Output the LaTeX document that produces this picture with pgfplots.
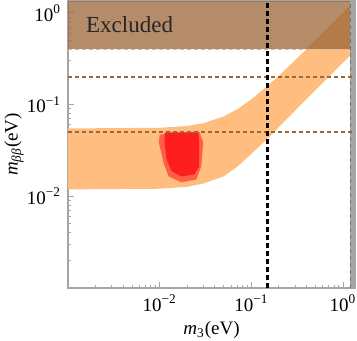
\documentclass[border=0pt]{standalone}
\usepackage{fontspec}
\setmainfont{Liberation Serif}
\usepackage{pgfplots}
\pgfplotsset{compat=1.18}
\definecolor{bandorange}{RGB}{255,190,128}
\definecolor{exclbrown}{RGB}{155,101,55}
\definecolor{dashbrown}{RGB}{150,105,55}
\definecolor{blobred}{RGB}{255,30,30}
\definecolor{blobedge}{RGB}{255,95,70}
\definecolor{framegray}{RGB}{165,165,165}

\begin{document}
\begin{tikzpicture}
\useasboundingbox (-34pt,-26.5pt) rectangle (144.5pt,144pt);
\begin{axis}[
  xmode=log, ymode=log,
  scale only axis, width=143.5pt, height=143.5pt,
  xmin=1e-3, xmax=1.35, ymin=1e-3, ymax=1.35,
  xtick={0.01,0.1,1}, ytick={0.01,0.1,1},
  xticklabels={10\textsuperscript{−2},10\textsuperscript{−1},10\textsuperscript{0}},
  yticklabels={10\textsuperscript{−2},10\textsuperscript{−1},10\textsuperscript{0}},
  minor xtick={0.002,0.003,0.004,0.005,0.006,0.007,0.008,0.009,
               0.02,0.03,0.04,0.05,0.06,0.07,0.08,0.09,
               0.2,0.3,0.4,0.5,0.6,0.7,0.8,0.9},
  minor ytick={0.002,0.003,0.004,0.005,0.006,0.007,0.008,0.009,
               0.02,0.03,0.04,0.05,0.06,0.07,0.08,0.09,
               0.2,0.3,0.4,0.5,0.6,0.7,0.8,0.9},
  tick align=inside, tick pos=left,
  major tick length=3pt, minor tick length=1.7pt,
  tick style={framegray, line width=0.5pt},
  axis line style={framegray, line width=0.6pt},
  tick label style={font=\fontsize{9.5}{11}\selectfont},
  xlabel={\textit{m}\textsubscript{3}(eV)},
  ylabel={\textit{m}\textsubscript{\textit{ββ}}(eV)},
  label style={font=\fontsize{9.5}{11}\selectfont},
  xlabel style={at={(axis description cs:0.5,-0.146)}, anchor=center},
  ylabel style={at={(axis description cs:-0.188,0.5)}, anchor=center},
]
% allowed band (upper edge left to right, lower edge back)
\addplot[fill=bandorange, draw=none] coordinates {
  (0.001,0.055) (0.01,0.0559) (0.02,0.0585) (0.03,0.0627) (0.05,0.0743)
  (0.07,0.089) (0.1,0.114) (0.15,0.16) (0.2,0.207) (0.3,0.305)
  (0.5,0.503) (0.8,0.802) (1.35,1.351)
  (1.35,0.39) (0.8,0.23) (0.5,0.144) (0.3,0.086) (0.2,0.057)
  (0.15,0.0425) (0.1,0.029) (0.07,0.021) (0.05,0.0165) (0.03,0.0138)
  (0.02,0.0127) (0.01,0.0121) (0.001,0.0119)
} -- cycle;
% red scatter region
\addplot[fill=blobedge, draw=none] coordinates {
  (0.0100,0.0472) (0.0270,0.0509) (0.0299,0.0386) (0.0284,0.0212)
  (0.0251,0.0153) (0.0173,0.0142) (0.0125,0.0165) (0.0110,0.0234)
  (0.0098,0.0386)
} -- cycle;
\addplot[fill=blobred, draw=none] coordinates {
  (0.0113,0.0496) (0.0264,0.0500) (0.0270,0.0386) (0.0270,0.0212)
  (0.0239,0.0173) (0.0173,0.0165) (0.0135,0.0187) (0.0119,0.0253)
  (0.0113,0.0386)
} -- cycle;
% excluded region
\addplot[fill=exclbrown, fill opacity=0.75, draw=none] coordinates {
  (0.001,0.4) (1.35,0.4) (1.35,1.35) (0.001,1.35)
} -- cycle;
\addplot[draw=exclbrown!45, line width=0.5pt, dash pattern=on 2pt off 1.5pt]
  coordinates {(0.001,0.4) (1.35,0.4)};
% gray band at the right
\addplot[fill=framegray, draw=none] coordinates {
  (1.2,0.001) (1.35,0.001) (1.35,1.35) (1.2,1.35)
} -- cycle;
\addplot[draw=black!55, line width=0.5pt, dash pattern=on 2pt off 1.5pt]
  coordinates {(1.2,0.001) (1.2,1.35)};
% dashed levels
\addplot[draw=dashbrown, line width=0.9pt, dash pattern=on 2pt off 1.5pt]
  coordinates {(0.001,0.2) (1.35,0.2)};
\addplot[draw=dashbrown, line width=0.9pt, dash pattern=on 2pt off 1.5pt]
  coordinates {(0.001,0.05) (1.35,0.05)};
\addplot[draw=black, line width=1.3pt, dash pattern=on 2.5pt off 1.5pt]
  coordinates {(0.15,0.001) (0.15,1.35)};
\node[font=\fontsize{11.5}{13}\selectfont, text=black!85] at (axis cs:0.0047,0.74) {Excluded};
\end{axis}
\end{tikzpicture}
\end{document}
